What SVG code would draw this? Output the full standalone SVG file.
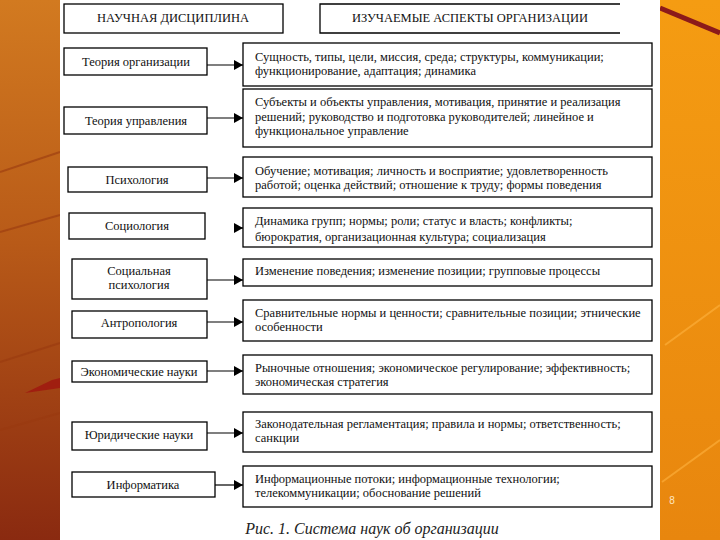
<svg xmlns="http://www.w3.org/2000/svg" width="720" height="540" viewBox="0 0 720 540">
<style>
.box{fill:#fff;stroke:#000;stroke-width:1.3}
.t{font-family:"Liberation Serif","Times New Roman",serif;font-size:12.5px;fill:#111}
.c{text-anchor:middle}
.con{stroke:#000;stroke-width:1.2;fill:none;marker-end:url(#ah)}
</style>
<defs>
<linearGradient id="lg" x1="0" y1="0" x2="0" y2="1">
<stop offset="0" stop-color="#d27a20"/>
<stop offset="0.45" stop-color="#b85a18"/>
<stop offset="1" stop-color="#8a2a10"/>
</linearGradient>
<linearGradient id="rg" x1="0" y1="0" x2="0" y2="1">
<stop offset="0" stop-color="#f59c12"/>
<stop offset="1" stop-color="#e8860e"/>
</linearGradient>
<marker id="ah" markerUnits="userSpaceOnUse" markerWidth="9" markerHeight="10" viewBox="0 0 9 10" refX="9" refY="5" orient="auto">
<path d="M0,0 L9,5 L0,10 z" fill="#000"/>
</marker>
</defs>
<g id="background">
<rect x="0" y="0" width="60" height="540" fill="url(#lg)"/>
<rect x="660" y="0" width="60" height="540" fill="url(#rg)"/>
<g stroke="#9a3a10" stroke-width="2" opacity="0.6">
<line x1="0" y1="172" x2="60" y2="152"/>
<line x1="0" y1="232" x2="60" y2="215"/>
<line x1="0" y1="362" x2="60" y2="343"/>
<line x1="0" y1="430" x2="60" y2="413"/>
</g>
<path d="M25,393 L60,388 L60,378 L52,380 Z" fill="#a01e10"/>
<line x1="660" y1="8" x2="720" y2="33" stroke="#8b1a1a" stroke-width="5"/>
<g stroke="#ffb340" stroke-width="2" opacity="0.6">
<line x1="665" y1="345" x2="720" y2="305"/>
<line x1="662" y1="482" x2="720" y2="440"/>
</g>
<text x="672" y="504" font-family="Liberation Sans, Arial, sans-serif" font-size="10" fill="#ffe6c0" text-anchor="middle">8</text>
<rect x="60" y="0" width="600" height="540" fill="#fff"/>
</g>
<g id="header-left">
<rect class="box" x="64" y="4" width="219" height="29"/>
<text class="t c" x="173" y="22">НАУЧНАЯ ДИСЦИПЛИНА</text>
</g>
<g id="header-right">
<path d="M620,4 H320 V33 H620" fill="none" stroke="#000" stroke-width="1.3"/>
<text class="t c" x="470" y="22">ИЗУЧАЕМЫЕ АСПЕКТЫ ОРГАНИЗАЦИИ</text>
</g>
<g id="d1"><rect class="box" x="64" y="48" width="143" height="27"/><text class="t c" x="136" y="66">Теория организации</text></g>
<g id="d2"><rect class="box" x="64" y="107" width="143" height="27"/><text class="t c" x="136" y="125">Теория управления</text></g>
<g id="d3"><rect class="box" x="68" y="167" width="139" height="25"/><text class="t c" x="137" y="184">Психология</text></g>
<g id="d4"><rect class="box" x="69" y="213" width="136" height="26"/><text class="t c" x="137" y="230">Социология</text></g>
<g id="d5"><rect class="box" x="72" y="259" width="135" height="40"/><text class="t c" x="139" y="275">Социальная</text><text class="t c" x="139" y="289">психология</text></g>
<g id="d6"><rect class="box" x="72" y="311" width="135" height="27"/><text class="t c" x="139" y="327">Антропология</text></g>
<g id="d7"><rect class="box" x="72" y="361" width="135" height="21"/><text class="t c" x="139" y="376">Экономические науки</text></g>
<g id="d8"><rect class="box" x="72" y="422" width="135" height="28"/><text class="t c" x="139" y="439">Юридические науки</text></g>
<g id="d9"><rect class="box" x="72" y="472" width="143" height="25"/><text class="t c" x="143" y="489">Информатика</text></g>
<g id="a1"><rect class="box" x="243" y="43" width="409" height="43"/>
<text class="t" x="255" y="61">Сущность, типы, цели, миссия, среда; структуры, коммуникации;</text>
<text class="t" x="255" y="75">функционирование, адаптация; динамика</text></g>
<g id="a2"><rect class="box" x="243" y="89" width="409" height="58"/>
<text class="t" x="255" y="106">Субъекты и объекты управления, мотивация, принятие и реализация</text>
<text class="t" x="255" y="121">решений; руководство и подготовка руководителей; линейное и</text>
<text class="t" x="255" y="135">функциональное управление</text></g>
<g id="a3"><rect class="box" x="243" y="157" width="409" height="40"/>
<text class="t" x="255" y="175">Обучение; мотивация; личность и восприятие; удовлетворенность</text>
<text class="t" x="255" y="189">работой; оценка действий; отношение к труду; формы поведения</text></g>
<g id="a4"><rect class="box" x="243" y="208" width="409" height="39"/>
<text class="t" x="255" y="225">Динамика групп; нормы; роли; статус и власть; конфликты;</text>
<text class="t" x="255" y="241">бюрократия, организационная культура; социализация</text></g>
<g id="a5"><rect class="box" x="243" y="259" width="409" height="27"/>
<text class="t" x="255" y="275">Изменение поведения; изменение позиции; групповые процессы</text></g>
<g id="a6"><rect class="box" x="243" y="300" width="409" height="41"/>
<text class="t" x="255" y="317">Сравнительные нормы и ценности; сравнительные позиции; этнические</text>
<text class="t" x="255" y="331">особенности</text></g>
<g id="a7"><rect class="box" x="243" y="355" width="409" height="39"/>
<text class="t" x="255" y="372">Рыночные отношения; экономическое регулирование; эффективность;</text>
<text class="t" x="255" y="386">экономическая стратегия</text></g>
<g id="a8"><rect class="box" x="243" y="412" width="409" height="40"/>
<text class="t" x="255" y="428">Законодательная регламентация; правила и нормы; ответственность;</text>
<text class="t" x="255" y="442">санкции</text></g>
<g id="a9"><rect class="box" x="243" y="466" width="409" height="41"/>
<text class="t" x="255" y="483">Информационные потоки; информационные технологии;</text>
<text class="t" x="255" y="497">телекоммуникации; обоснование решений</text></g>
<g id="connectors">
<line class="con" x1="207" y1="65" x2="243" y2="65"/>
<line class="con" x1="207" y1="118" x2="243" y2="118"/>
<line class="con" x1="207" y1="178" x2="243" y2="178"/>
<line class="con" x1="235" y1="228" x2="243" y2="228"/>
<line class="con" x1="207" y1="280" x2="243" y2="280"/>
<line class="con" x1="207" y1="322" x2="243" y2="322"/>
<line class="con" x1="207" y1="371" x2="243" y2="371"/>
<line class="con" x1="207" y1="433" x2="243" y2="433"/>
<line class="con" x1="215" y1="485" x2="243" y2="485"/>
</g>
<text id="caption" x="372" y="534" text-anchor="middle" font-family="Liberation Serif, Times New Roman, serif" font-style="italic" font-size="16" fill="#222">Рис. 1. Система наук об организации</text>
</svg>
